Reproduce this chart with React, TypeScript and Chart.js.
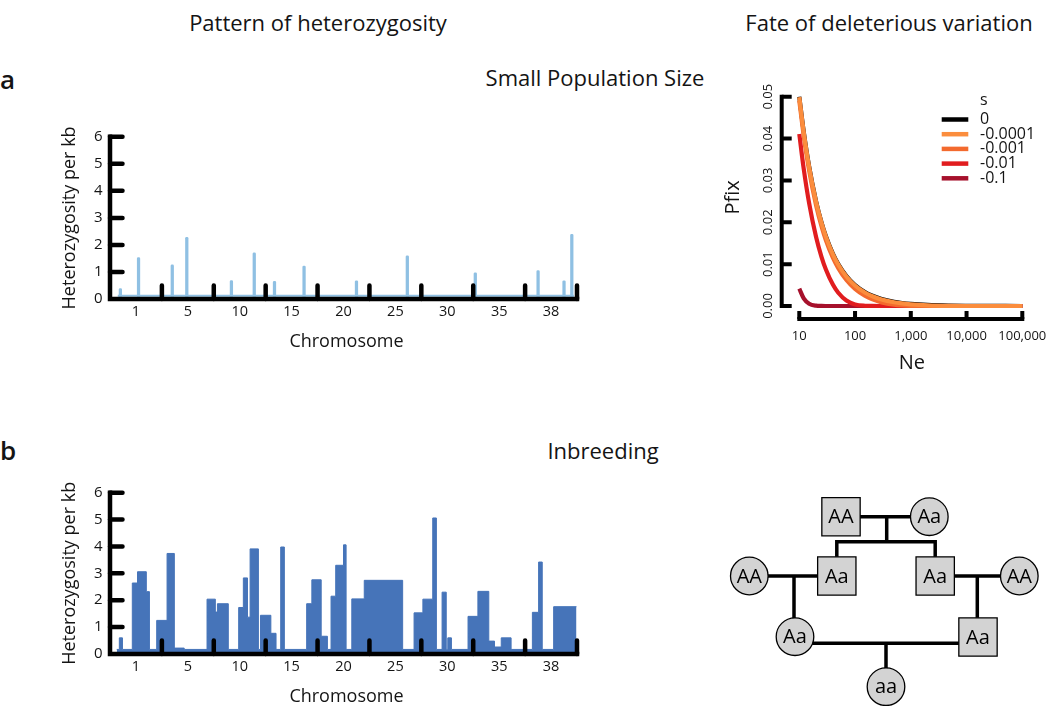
import React, { useEffect, useRef } from "react";
import { Chart, registerables } from "chart.js";

Chart.register(...registerables);

const FONT = '"Open Sans", "Noto Sans", "DejaVu Sans", sans-serif';
const TEXT = "#141414";
const LIGHT_BLUE = "#8fc0e3";
const DARK_BLUE = "#4674b9";

// ---------- shared chromosome axis ----------
const chromLabels = ["1", "5", "10", "15", "20", "25", "30", "35", "38"];
const chromLabelPos = [0.5, 1.5, 2.5, 3.5, 4.5, 5.5, 6.5, 7.5, 8.5];
const chromTickPos = [1, 2, 3, 4, 5, 6, 7, 8, 9];
const hetTicks = [0, 1, 2, 3, 4, 5, 6];

// ---------- panel a : small population size ----------
const smallPopPos = [0.2, 0.55, 1.2, 1.48, 2.34, 2.78, 3.17, 3.74, 4.75, 5.73, 7.04, 8.25, 8.75, 8.9];
const smallPopHet = [0.39, 1.53, 1.26, 2.28, 0.68, 1.71, 0.65, 1.22, 0.67, 1.6, 0.97, 1.05, 0.67, 2.39];
const smallPopBaseX = [0.15, 8.94];
const smallPopBaseY = [0.12, 0.12];

// ---------- panel b : inbreeding (segment starts and heterozygosity) ----------
const inbreedPos = [
  0.13, 0.18, 0.24, 0.43, 0.53, 0.7, 0.76, 0.9, 1.1, 1.24, 1.43, 1.87, 2.03, 2.07, 2.28,
  2.48, 2.57, 2.65, 2.7, 2.86, 2.9, 3.1, 3.2, 3.29, 3.36, 3.79, 3.89, 4.07, 4.19, 4.26,
  4.35, 4.5, 4.55, 4.66, 4.9, 5.64, 5.86, 6.03, 6.22, 6.29, 6.4, 6.48, 6.51, 6.58, 6.9,
  7.09, 7.3, 7.41, 7.54, 7.73, 8.14, 8.26, 8.33, 8.55, 8.99,
];
const inbreedHet = [
  0.17, 0.6, 0.17, 2.64, 3.06, 2.32, 0.17, 1.25, 3.74, 0.22, 0.17, 2.04, 1.56, 1.87, 0.17,
  1.73, 2.83, 1.37, 3.91, 0.17, 1.44, 0.77, 0.17, 3.98, 0.17, 1.87, 2.76, 0.66, 0.17, 2.15,
  3.3, 4.06, 0.17, 2.05, 2.74, 0.17, 1.53, 2.04, 5.06, 0.17, 2.3, 0.17, 0.6, 0.17, 1.4,
  2.33, 0.48, 0.26, 0.6, 0.17, 1.55, 3.42, 0.17, 1.76, 1.76,
];

// ---------- fate of deleterious variation ----------
const neValues = [10, 12, 15, 20, 25, 30, 40, 50, 70, 100, 150, 200, 300, 500, 700, 1000, 2000, 5000, 10000, 20000, 50000, 100000];
const pfixS0 = [0.05, 0.04167, 0.03333, 0.025, 0.02, 0.01667, 0.0125, 0.01, 0.007143, 0.005, 0.003333, 0.0025, 0.001667, 0.001, 0.000714, 0.0005, 0.00025, 0.0001, 0.00005, 0.000025, 0.00001, 0.000005];
const pfixS1 = [0.0499, 0.04157, 0.03324, 0.0249, 0.0199, 0.01657, 0.0124, 0.0099, 0.007044, 0.004901, 0.003235, 0.002402, 0.001569, 0.000903, 0.000619, 0.000407, 0.000163, 0.000031, 0.000004, 0, 0, 0];
const pfixS2 = [0.04906, 0.04072, 0.03238, 0.02404, 0.01904, 0.0157, 0.01154, 0.00904, 0.0062, 0.00407, 0.002435, 0.001634, 0.000863, 0.000313, 0.00013, 0.000037, 0.000001, 0, 0, 0, 0, 0];
const pfixS3 = [0.04107, 0.03279, 0.02457, 0.01648, 0.01176, 0.00871, 0.00511, 0.00316, 0.001308, 0.000377, 0.00005, 0.000007, 0, 0, 0, 0, 0, 0, 0, 0, 0, 0];
const pfixS4 = [0.00413, 0.00184, 0.00055, 0.000074, 0.00001, 0.000001, 0, 0, 0, 0, 0, 0, 0, 0, 0, 0, 0, 0, 0, 0, 0, 0];
const sLabels = ["0", "-0.0001", "-0.001", "-0.01", "-0.1"];
const sColors = ["#000000", "#fb8d3d", "#f36a2e", "#e11d1f", "#a6112c"];
const pfixTicks = [0, 0.01, 0.02, 0.03, 0.04, 0.05];
const pfixTickLabels = ["0.00", "0.01", "0.02", "0.03", "0.04", "0.05"];
const neTicks = [10, 100, 1000, 10000, 100000];
const neTickLabels = ["10", "100", "1,000", "10,000", "100,000"];

// ---------- pedigree (layout units) ----------
const pedNodes = [
  { label: "AA", shape: "rect", x: 121, y: 36.7 },
  { label: "Aa", shape: "circle", x: 209.3, y: 36.7 },
  { label: "AA", shape: "circle", x: 29.3, y: 96 },
  { label: "Aa", shape: "rect", x: 116.8, y: 96 },
  { label: "Aa", shape: "rect", x: 215.2, y: 96 },
  { label: "AA", shape: "circle", x: 299.3, y: 96 },
  { label: "Aa", shape: "circle", x: 75, y: 156.7 },
  { label: "Aa", shape: "rect", x: 258, y: 157 },
  { label: "aa", shape: "circle", x: 166, y: 206.7 },
];
const pedLines = [
  [[121, 36.7], [209.3, 36.7]],
  [[166.7, 36.7], [166.7, 61.7]],
  [[116.8, 80], [116.8, 61.7], [215.2, 61.7], [215.2, 80]],
  [[29.3, 96], [116.8, 96]],
  [[74, 96], [74, 145]],
  [[215.2, 96], [299.3, 96]],
  [[257.3, 96], [257.3, 145]],
  [[75, 163.3], [258, 163.3]],
  [[166, 163.3], [166, 190]],
];

// ---------- plugins ----------
const hetAxesPlugin = {
  id: "hetAxes",
  afterDatasetsDraw(chart: any) {
    const { ctx, scales } = chart;
    const x = scales.x;
    const y = scales.y;
    const x0 = x.getPixelForValue(0);
    const x9 = x.getPixelForValue(9);
    const y0 = y.getPixelForValue(0);
    const y6 = y.getPixelForValue(6);
    ctx.save();
    ctx.strokeStyle = "#000";
    ctx.lineWidth = 4.5;
    ctx.lineCap = "square";
    ctx.beginPath();
    ctx.moveTo(x0, y6);
    ctx.lineTo(x0, y0);
    ctx.lineTo(x9, y0);
    ctx.stroke();
    ctx.lineCap = "round";
    ctx.beginPath();
    hetTicks.forEach((v) => {
      if (v === 0) return;
      const py = y.getPixelForValue(v);
      ctx.moveTo(x0, py);
      ctx.lineTo(x0 + 12.5, py);
    });
    chromTickPos.forEach((t) => {
      const px = x.getPixelForValue(t);
      ctx.moveTo(px, y0);
      ctx.lineTo(px, y.getPixelForValue(0.5));
    });
    ctx.stroke();

    ctx.fillStyle = TEXT;
    ctx.font = `15px ${FONT}`;
    ctx.textAlign = "right";
    ctx.textBaseline = "middle";
    hetTicks.forEach((v) => ctx.fillText(String(v), x0 - 7.5, y.getPixelForValue(v)));
    ctx.textAlign = "center";
    ctx.font = `14.5px ${FONT}`;
    chromLabels.forEach((l, i) => ctx.fillText(l, x.getPixelForValue(chromLabelPos[i]), y0 + 13));
    ctx.font = `18px ${FONT}`;
    ctx.fillText("Chromosome", (x0 + x9) / 2 + 3, y0 + 43);
    ctx.translate(x0 - 40, (y0 + y6) / 2);
    ctx.rotate(-Math.PI / 2);
    ctx.fillText("Heterozygosity per kb", 0, 0);
    ctx.restore();
  },
};

const pfixAxesPlugin = {
  id: "pfixAxes",
  afterDatasetsDraw(chart: any) {
    const { ctx, scales, chartArea } = chart;
    const x = scales.x;
    const y = scales.y;
    const ax = chartArea.left - 17.6;
    const ay = chartArea.bottom + 13;
    ctx.save();
    ctx.strokeStyle = "#000";
    ctx.lineWidth = 4;
    ctx.lineCap = "square";
    ctx.beginPath();
    ctx.moveTo(ax, y.getPixelForValue(0));
    ctx.lineTo(ax, y.getPixelForValue(0.05));
    ctx.moveTo(x.getPixelForValue(10), ay);
    ctx.lineTo(x.getPixelForValue(100000), ay);
    ctx.stroke();
    ctx.lineCap = "butt";
    ctx.beginPath();
    pfixTicks.forEach((v) => {
      const py = y.getPixelForValue(v);
      ctx.moveTo(ax, py);
      ctx.lineTo(ax + 10, py);
    });
    neTicks.forEach((v) => {
      const px = x.getPixelForValue(v);
      ctx.moveTo(px, ay);
      ctx.lineTo(px, ay - 8);
    });
    ctx.stroke();

    ctx.fillStyle = TEXT;
    ctx.font = `13px ${FONT}`;
    ctx.textAlign = "center";
    ctx.textBaseline = "middle";
    neTicks.forEach((v, i) => ctx.fillText(neTickLabels[i], x.getPixelForValue(v), ay + 17.7));
    pfixTicks.forEach((v, i) => {
      ctx.save();
      ctx.translate(ax - 13.7, y.getPixelForValue(v));
      ctx.rotate(-Math.PI / 2);
      ctx.fillText(pfixTickLabels[i], 0, 0);
      ctx.restore();
    });
    ctx.font = `20px ${FONT}`;
    ctx.fillText("Ne", (chartArea.left + chartArea.right) / 2 + 1, ay + 44);
    ctx.save();
    ctx.translate(33, (chartArea.top + chartArea.bottom) / 2 - 4);
    ctx.rotate(-Math.PI / 2);
    ctx.fillText("Pfix", 0, 0);
    ctx.restore();

    // legend
    const lx0 = 241.7;
    const lx1 = 268.3;
    const tx = 280;
    ctx.font = `16px ${FONT}`;
    ctx.textAlign = "left";
    ctx.fillText("s", tx, 20);
    sLabels.forEach((l, i) => {
      const ly = 39.5 + i * 14.7;
      ctx.strokeStyle = sColors[i];
      ctx.lineWidth = 4.5;
      ctx.beginPath();
      ctx.moveTo(lx0, ly);
      ctx.lineTo(lx1, ly);
      ctx.stroke();
      ctx.fillStyle = TEXT;
      ctx.fillText(l, tx, ly);
    });
    ctx.restore();
  },
};

const pedLabelPlugin = {
  id: "pedLabels",
  afterDatasetsDraw(chart: any) {
    const { ctx } = chart;
    const meta = chart.getDatasetMeta(0);
    ctx.save();
    ctx.fillStyle = "#000";
    ctx.font = `500 20px ${FONT}`;
    ctx.textAlign = "center";
    ctx.textBaseline = "middle";
    meta.data.forEach((pt: any, i: number) => ctx.fillText(pedNodes[i].label, pt.x, pt.y + 1));
    ctx.restore();
  },
};

const baseOptions = (padding: any) => ({
  responsive: false,
  animation: false as const,
  events: [] as any[],
  layout: { padding, autoPadding: false },
  plugins: { legend: { display: false }, tooltip: { enabled: false } },
});

function makeSmallPop(): any {
  return {
    type: "bar",
    data: {
      datasets: [
        {
          type: "bar",
          data: smallPopPos.map((x, i) => ({ x, y: smallPopHet[i] })),
          backgroundColor: LIGHT_BLUE,
          barThickness: 2.6,
          borderRadius: 1.3,
          borderSkipped: "bottom",
        },
        {
          type: "line",
          data: smallPopBaseX.map((x, i) => ({ x, y: smallPopBaseY[i] })),
          borderColor: LIGHT_BLUE,
          borderWidth: 2,
          pointRadius: 0,
        },
      ],
    },
    options: {
      ...baseOptions({ left: 110, right: 23, top: 36.8, bottom: 71 }),
      scales: {
        x: { type: "linear", min: 0, max: 9, display: false, offset: false },
        y: { type: "linear", min: 0, max: 6, display: false },
      },
    },
    plugins: [hetAxesPlugin],
  };
}

function makeInbreeding(): any {
  return {
    type: "line",
    data: {
      datasets: [
        {
          data: inbreedPos.map((x, i) => ({ x, y: inbreedHet[i] })),
          borderColor: DARK_BLUE,
          backgroundColor: DARK_BLUE,
          borderWidth: 1,
          fill: "origin",
          stepped: true,
          pointRadius: 0,
        },
      ],
    },
    options: {
      ...baseOptions({ left: 110, right: 23, top: 36.7, bottom: 52 }),
      scales: {
        x: { type: "linear", min: 0, max: 9, display: false },
        y: { type: "linear", min: 0, max: 6, display: false },
      },
    },
    plugins: [hetAxesPlugin],
  };
}

function makePfix(): any {
  const series = [pfixS0, pfixS1, pfixS2, pfixS3, pfixS4];
  const drawOrder = [4, 0, 1, 2, 3];
  return {
    type: "line",
    data: {
      datasets: series.map((arr, k) => ({
        label: sLabels[k],
        data: neValues.map((x, i) => ({ x, y: arr[i] })),
        borderColor: sColors[k],
        borderWidth: 4.2,
        pointRadius: 0,
        cubicInterpolationMode: "monotone",
        order: drawOrder[k],
        clip: 6,
      })),
    },
    options: {
      ...baseOptions({ left: 99.3, right: 27.7, top: 16.7, bottom: 74 }),
      scales: {
        x: { type: "logarithmic", min: 10, max: 100000, display: false },
        y: { type: "linear", min: 0, max: 0.05, display: false },
      },
    },
    plugins: [pfixAxesPlugin],
  };
}

function makePedigree(): any {
  return {
    type: "scatter",
    data: {
      datasets: [
        {
          data: pedNodes.map((n) => ({ x: n.x, y: n.y })),
          pointStyle: pedNodes.map((n) => n.shape),
          pointRadius: pedNodes.map((n) => (n.shape === "rect" ? 27.1 : 18.8)),
          pointBackgroundColor: "#d3d3d3",
          pointBorderColor: "#000",
          pointBorderWidth: 1.3,
          showLine: false,
          clip: false,
        },
        ...pedLines.map((seg) => ({
          data: seg.map(([x, y]) => ({ x, y })),
          showLine: true,
          borderColor: "#000",
          borderWidth: 3.5,
          pointRadius: 0,
          clip: false,
        })),
      ],
    },
    options: {
      ...baseOptions(0),
      scales: {
        x: { type: "linear", min: 0, max: 330, display: false },
        y: { type: "linear", min: 0, max: 226, reverse: true, display: false },
      },
    },
    plugins: [pedLabelPlugin],
  };
}

function ChartBox(props: { left: number; top: number; width: number; height: number; make: () => any }) {
  const ref = useRef<HTMLCanvasElement>(null);
  useEffect(() => {
    const chart = new Chart(ref.current as HTMLCanvasElement, props.make());
    return () => chart.destroy();
  }, []);
  const { left, top, width, height } = props;
  return (
    <div style={{ position: "absolute", left, top, width, height }}>
      <canvas ref={ref} width={width} height={height} style={{ width, height, display: "block" }} />
    </div>
  );
}

function Label(props: { text: string; cx?: number; left?: number; cy: number; size: number; weight?: number }) {
  const { text, cx, left, cy, size, weight } = props;
  const lh = Math.round(size * 1.4);
  const style: any = {
    position: "absolute",
    top: cy - lh / 2,
    height: lh,
    lineHeight: `${lh}px`,
    fontFamily: FONT,
    fontSize: size,
    fontWeight: weight || 400,
    color: TEXT,
    whiteSpace: "nowrap",
  };
  if (cx !== undefined) {
    style.left = cx - 250;
    style.width = 500;
    style.textAlign = "center";
  } else {
    style.left = left;
  }
  return <div style={style}>{text}</div>;
}

export default function App() {
  return (
    <div style={{ position: "absolute", left: 0, top: 0, width: 1050, height: 706, overflow: "hidden", background: "#fff" }}>
      <Label text="Pattern of heterozygosity" cx={318} cy={22} size={22} weight={500} />
      <Label text="Fate of deleterious variation" cx={889} cy={22} size={22} weight={500} />
      <Label text="a" left={0} cy={79} size={26} weight={600} />
      <Label text="Small Population Size" cx={595} cy={77} size={22} weight={500} />
      <Label text="b" left={0} cy={450} size={26} weight={600} />
      <Label text="Inbreeding" cx={603} cy={450} size={22} weight={500} />
      <ChartBox left={0} top={100} width={600} height={270} make={makeSmallPop} />
      <ChartBox left={700} top={80} width={350} height={300} make={makePfix} />
      <ChartBox left={0} top={456} width={600} height={250} make={makeInbreeding} />
      <ChartBox left={720} top={480} width={330} height={226} make={makePedigree} />
    </div>
  );
}
